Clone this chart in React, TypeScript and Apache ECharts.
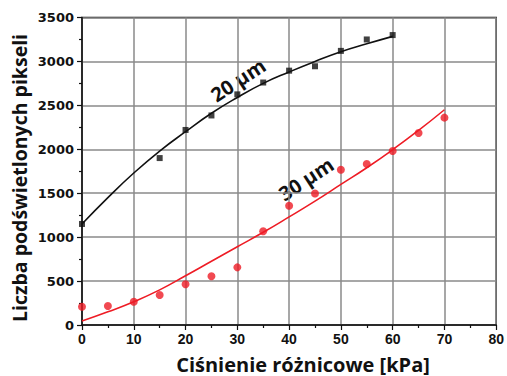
import React, { useEffect, useRef } from "react";
import * as echarts from "echarts";

// measured points
const pressure20 = [0, 15, 20, 25, 30, 35, 40, 45, 50, 55, 60];
const pixels20 = [1150, 1900, 2220, 2385, 2625, 2760, 2895, 2945, 3120, 3250, 3300];
const pressure30 = [0, 5, 10, 15, 20, 25, 30, 35, 40, 45, 50, 55, 60, 65, 70];
const pixels30 = [208, 216, 265, 341, 463, 554, 656, 1068, 1358, 1497, 1768, 1833, 1980, 2185, 2360];

// fitted curves
const fitX20 = [0, 5, 10, 15, 20, 25, 30, 35, 40, 45, 50, 55, 60];
const fitY20 = [1150, 1450, 1730, 1980, 2200, 2410, 2590, 2750, 2880, 3000, 3110, 3200, 3285];
const fitX30 = [0, 5, 10, 15, 20, 25, 30, 35, 40, 45, 50, 55, 60, 65, 70];
const fitY30 = [45, 150, 265, 400, 560, 725, 890, 1055, 1230, 1410, 1600, 1790, 1995, 2215, 2450];

const xTitle = "Ciśnienie różnicowe [kPa]";
const yTitle = "Liczba podświetlonych pikseli";
const label20 = "20 µm";
const label30 = "30 µm";

const zip = (a: number[], b: number[]) => a.map((v, i) => [v, b[i]]);

export default function App() {
  const ref = useRef<HTMLDivElement>(null);
  useEffect(() => {
    if (!ref.current) return;
    const chart = echarts.init(ref.current, undefined, { renderer: "svg" });
    const titleFont = "'Open Sans', sans-serif";
    chart.setOption({
      animation: false,
      backgroundColor: "#ffffff",
      grid: {
        left: 82,
        right: 9,
        top: 17.5,
        bottom: 51,
        show: true,
        borderColor: "#111",
        borderWidth: 1.5,
      },
      xAxis: {
        type: "value",
        min: 0,
        max: 80,
        interval: 10,
        axisLine: { show: true, lineStyle: { color: "#111", width: 1.5 } },
        axisTick: { show: true, inside: false, length: 5, lineStyle: { color: "#111", width: 1.2 } },
        minorTick: { show: true, splitNumber: 2, length: 3, lineStyle: { color: "#111", width: 1.2 } },
        splitLine: { show: true, lineStyle: { color: "#8a8a8a", width: 1.5 } },
        axisLabel: {
          margin: 7,
          color: "#111",
          fontFamily: "'Liberation Sans', Arial, sans-serif",
          fontWeight: "bold",
          fontSize: 14,
        },
      },
      yAxis: {
        type: "value",
        min: 0,
        max: 3500,
        interval: 500,
        axisLine: { show: true, lineStyle: { color: "#111", width: 1.5 } },
        axisTick: { show: true, inside: false, length: 5, lineStyle: { color: "#111", width: 1.2 } },
        minorTick: { show: true, splitNumber: 2, length: 3, lineStyle: { color: "#111", width: 1.2 } },
        splitLine: { show: true, lineStyle: { color: "#8a8a8a", width: 1.5 } },
        axisLabel: {
          margin: 8,
          color: "#111",
          fontFamily: "'DejaVu Sans', sans-serif",
          fontWeight: "bold",
          fontSize: 13,
          formatter: (v: number) => String(v),
        },
      },
      graphic: [
        {
          type: "text",
          x: 303,
          y: 364,
          style: {
            text: xTitle,
            font: `bold 20px ${titleFont}`,
            fill: "#111",
            textAlign: "center",
            textVerticalAlign: "middle",
          },
        },
        {
          type: "text",
          x: 19,
          y: 178,
          rotation: Math.PI / 2,
          style: {
            text: yTitle,
            font: `bold 19.5px ${titleFont}`,
            fill: "#111",
            textAlign: "center",
            textVerticalAlign: "middle",
          },
        },
        {
          type: "text",
          x: 238,
          y: 80,
          rotation: 0.58,
          style: {
            text: label20,
            font: `bold 20px ${titleFont}`,
            fill: "#111",
            textAlign: "center",
            textVerticalAlign: "middle",
          },
        },
        {
          type: "text",
          x: 306,
          y: 179,
          rotation: 0.58,
          style: {
            text: label30,
            font: `bold 20px ${titleFont}`,
            fill: "#111",
            textAlign: "center",
            textVerticalAlign: "middle",
          },
        },
      ],
      series: [
        {
          type: "line",
          data: zip(fitX20, fitY20),
          smooth: true,
          showSymbol: false,
          lineStyle: { color: "#111", width: 1.6 },
          z: 2,
        },
        {
          type: "scatter",
          data: zip(pressure20, pixels20),
          symbol: "rect",
          symbolSize: 6,
          itemStyle: { color: "#111" },
          z: 3,
        },
        {
          type: "line",
          data: zip(fitX30, fitY30),
          smooth: true,
          showSymbol: false,
          lineStyle: { color: "#ee1c25", width: 1.6 },
          z: 2,
        },
        {
          type: "scatter",
          data: zip(pressure30, pixels30),
          symbol: "circle",
          symbolSize: 8,
          itemStyle: { color: "#ee1c25" },
          z: 3,
        },
      ],
    });
    return () => chart.dispose();
  }, []);
  return (
    <div
      ref={ref}
      style={{ position: "fixed", left: 0, top: 0, width: 507, height: 376 }}
    />
  );
}
